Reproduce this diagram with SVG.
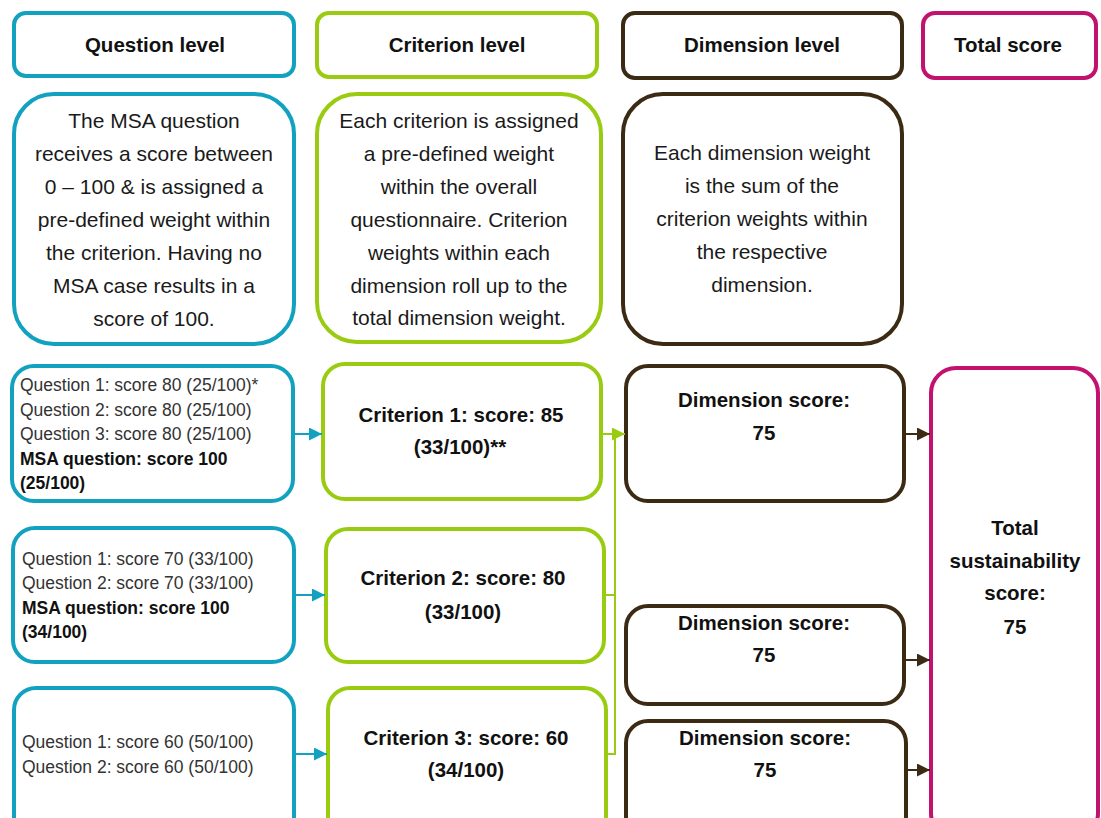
<svg xmlns="http://www.w3.org/2000/svg" width="1101" height="818" viewBox="0 0 1101 818">
<style>
.box{fill:#fff;stroke-width:4}
.q{stroke:#12A1BF}
.c{stroke:#99CC11}
.d{stroke:#3B2A14}
.t{stroke:#C2126F}
text{font-family:"Liberation Sans",Arial,sans-serif}
.h{font-size:20.5px;font-weight:bold;fill:#111;text-anchor:middle}
.desc{font-size:21px;fill:#1a1a1a;text-anchor:middle}
.ql{font-size:17.5px;fill:#333}
.qb{font-size:17.5px;fill:#111;font-weight:bold}
.b{font-size:20.5px;font-weight:bold;fill:#111;text-anchor:middle}
.lq{stroke:#12A1BF;stroke-width:2;fill:none}
.lc{stroke:#99CC11;stroke-width:2;fill:none}
.ld{stroke:#3B2A14;stroke-width:2;fill:none}
</style>
<defs>
<marker id="aq" viewBox="0 0 10 10" refX="10" refY="5" markerWidth="6.5" markerHeight="6.5" markerUnits="strokeWidth" orient="auto"><path d="M0,0 L10,5 L0,10 z" fill="#12A1BF"/></marker>
<marker id="ac" viewBox="0 0 10 10" refX="10" refY="5" markerWidth="6.5" markerHeight="6.5" markerUnits="strokeWidth" orient="auto"><path d="M0,0 L10,5 L0,10 z" fill="#99CC11"/></marker>
<marker id="ad" viewBox="0 0 10 10" refX="10" refY="5" markerWidth="6.5" markerHeight="6.5" markerUnits="strokeWidth" orient="auto"><path d="M0,0 L10,5 L0,10 z" fill="#3B2A14"/></marker>
</defs>
<rect width="1101" height="818" fill="#fff"/>

<g id="hdr-question"><rect class="box q" x="14" y="13" width="280" height="63" rx="12"/><text class="h" x="155" y="52">Question level</text></g>
<g id="hdr-criterion"><rect class="box c" x="317" y="13" width="280" height="64" rx="12"/><text class="h" x="457" y="52">Criterion level</text></g>
<g id="hdr-dimension"><rect class="box d" x="623" y="13" width="279" height="65" rx="12"/><text class="h" x="762" y="52">Dimension level</text></g>
<g id="hdr-total"><rect class="box t" x="923" y="13" width="173" height="65" rx="12"/><text class="h" x="1008" y="52">Total score</text></g>

<g id="desc-question"><rect class="box q" x="14" y="94" width="280" height="250" rx="40"/>
<text class="desc"><tspan x="154" y="128">The MSA question</tspan><tspan x="154" y="161">receives a score between</tspan><tspan x="154" y="194">0 – 100 &amp; is assigned a</tspan><tspan x="154" y="227">pre-defined weight within</tspan><tspan x="154" y="260">the criterion. Having no</tspan><tspan x="154" y="293">MSA case results in a</tspan><tspan x="154" y="326">score of 100.</tspan></text></g>

<g id="desc-criterion"><rect class="box c" x="317" y="94" width="284" height="248" rx="40"/>
<text class="desc"><tspan x="459" y="128">Each criterion is assigned</tspan><tspan x="459" y="161">a pre-defined weight</tspan><tspan x="459" y="194">within the overall</tspan><tspan x="459" y="227">questionnaire. Criterion</tspan><tspan x="459" y="260">weights within each</tspan><tspan x="459" y="293">dimension roll up to the</tspan><tspan x="459" y="325">total dimension weight.</tspan></text></g>

<g id="desc-dimension"><rect class="box d" x="623" y="94" width="279" height="250" rx="40"/>
<text class="desc"><tspan x="762" y="160">Each dimension weight</tspan><tspan x="762" y="193">is the sum of the</tspan><tspan x="762" y="226">criterion weights within</tspan><tspan x="762" y="259">the respective</tspan><tspan x="762" y="292">dimension.</tspan></text></g>

<g id="q1"><rect class="box q" x="12" y="366" width="281" height="135" rx="22"/>
<text class="ql" x="20" y="391">Question 1: score 80 (25/100)*</text>
<text class="ql" x="20" y="416">Question 2: score 80 (25/100)</text>
<text class="ql" x="20" y="440">Question 3: score 80 (25/100)</text>
<text class="qb" x="20" y="465">MSA question: score 100</text>
<text class="qb" x="20" y="489">(25/100)</text></g>

<g id="q2"><rect class="box q" x="13" y="528" width="281" height="134" rx="22"/>
<text class="ql" x="22" y="565">Question 1: score 70 (33/100)</text>
<text class="ql" x="22" y="589">Question 2: score 70 (33/100)</text>
<text class="qb" x="22" y="614">MSA question: score 100</text>
<text class="qb" x="22" y="638">(34/100)</text></g>

<g id="q3"><rect class="box q" x="14" y="688" width="280" height="150" rx="22"/>
<text class="ql" x="22" y="748">Question 1: score 60 (50/100)</text>
<text class="ql" x="22" y="773">Question 2: score 60 (50/100)</text></g>

<g id="c1"><rect class="box c" x="323" y="364" width="278" height="135" rx="22"/>
<text class="b" x="461" y="422">Criterion 1: score: 85</text>
<text class="b" x="460" y="454">(33/100)**</text></g>

<g id="c2"><rect class="box c" x="326" y="529" width="278" height="133" rx="22"/>
<text class="b" x="463" y="585">Criterion 2: score: 80</text>
<text class="b" x="463" y="619">(33/100)</text></g>

<g id="c3"><rect class="box c" x="328" y="688" width="278" height="150" rx="22"/>
<text class="b" x="466" y="745">Criterion 3: score: 60</text>
<text class="b" x="466" y="777">(34/100)</text></g>

<g id="d1"><rect class="box d" x="626" y="366" width="278" height="135" rx="22"/>
<text class="b" x="764" y="407">Dimension score:</text>
<text class="b" x="764" y="440">75</text></g>

<g id="d2"><rect class="box d" x="626" y="606" width="278" height="98" rx="22"/>
<text class="b" x="764" y="630">Dimension score:</text>
<text class="b" x="764" y="662">75</text></g>

<g id="d3"><rect class="box d" x="626" y="721" width="280" height="117" rx="22"/>
<text class="b" x="765" y="745">Dimension score:</text>
<text class="b" x="765" y="777">75</text></g>

<g id="total"><rect class="box t" x="931" y="368" width="167" height="470" rx="25"/>
<text class="b"><tspan x="1015" y="535">Total</tspan><tspan x="1015" y="568">sustainability</tspan><tspan x="1015" y="600">score:</tspan><tspan x="1015" y="634">75</tspan></text></g>

<g id="connectors">
<line class="lq" x1="295" y1="434" x2="322" y2="434" marker-end="url(#aq)"/>
<line class="lq" x1="296" y1="595" x2="325" y2="595" marker-end="url(#aq)"/>
<line class="lq" x1="296" y1="754" x2="327" y2="754" marker-end="url(#aq)"/>
<path class="lc" d="M603,434 H615 M606,595 H615 M608,754 H615 V434"/>
<line class="lc" x1="603" y1="434" x2="625" y2="434" marker-end="url(#ac)"/>
<line class="ld" x1="906" y1="434" x2="930" y2="434" marker-end="url(#ad)"/>
<line class="ld" x1="906" y1="660" x2="930" y2="660" marker-end="url(#ad)"/>
<line class="ld" x1="908" y1="770" x2="930" y2="770" marker-end="url(#ad)"/>
</g>
</svg>
